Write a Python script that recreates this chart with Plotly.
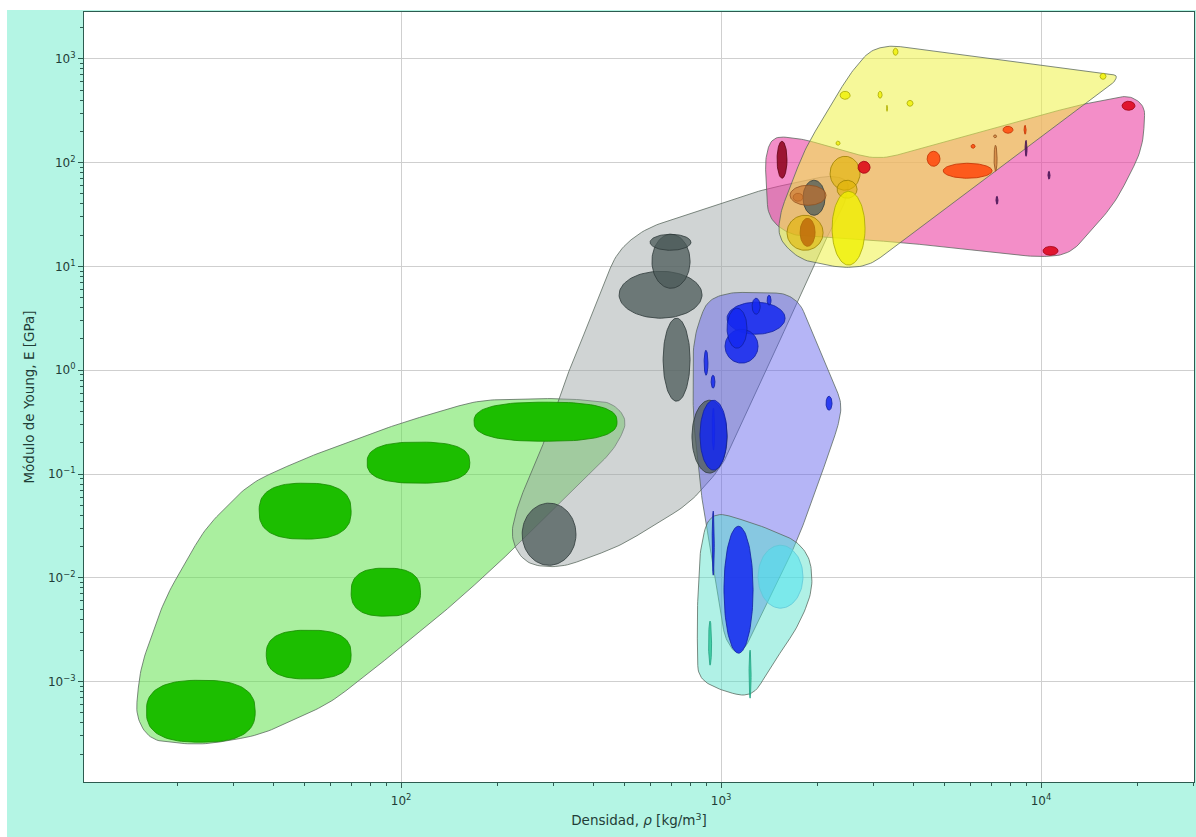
import numpy as np
import plotly.graph_objects as go

# ---------------------------------------------------------------
# Material property ranges: density [kg/m3] and Young's modulus [GPa]
# ---------------------------------------------------------------
espumas_rho_lo = [16.0, 37.9, 69.8, 36.0, 78.3, 169]
espumas_rho_hi = [35.0, 69.8, 115, 69.8, 164, 473]
espumas_E_lo = [2.61e-4, 1.06e-3, 4.27e-3, 0.0236, 0.0816, 0.207]
espumas_E_hi = [1.03e-3, 3.13e-3, 0.0124, 0.0816, 0.203, 0.492]

naturales_rho_lo = [239, 480, 608, 600, 659, 811, 1803]
naturales_rho_hi = [352, 872, 800, 805, 800, 1044, 2113]
naturales_E_lo = [0.0132, 3.17, 6.16, 14.3, 0.503, 0.102, 31.1]
naturales_E_hi = [0.0524, 8.98, 20.4, 20.4, 3.17, 0.514, 67.6]

polimeros_rho_lo = [1044, 1029, 1044, 1250, 1393, 885, 931, 938, 2128, 859, 1021, 938]
polimeros_rho_hi = [1585, 1305, 1205, 1325, 1433, 910, 957, 955, 2222, 1044, 1259, 952]
polimeros_E_lo = [2.22, 1.17, 1.63, 3.46, 4.23, 0.895, 0.671, 0.170, 0.412, 0.109, 0.00188, 0.0106]
polimeros_E_hi = [4.52, 2.48, 3.96, 4.94, 5.28, 1.56, 0.895, 0.431, 0.562, 0.514, 0.0314, 0.0439]

elastomeros_rho_lo = [1305]
elastomeros_rho_hi = [1803]
elastomeros_E_lo = [0.0051]
elastomeros_E_hi = [0.0206]

gomas_rho_lo = [914, 1223]
gomas_rho_hi = [934, 1241]
gomas_E_lo = [1.44e-3, 6.93e-4]
gomas_E_hi = [3.83e-3, 2.01e-3]

granate_rho_lo = [1496, 1766]
granate_rho_hi = [1607, 1967]
granate_E_lo = [70.7, 15.6]
granate_E_hi = [160.6, 29.1]

dorado_rho_lo = [2191, 2304, 1607]
dorado_rho_hi = [2718, 2661, 2084]
dorado_E_lo = [54.2, 45.4, 14.3]
dorado_E_hi = [115, 67.6, 31.1]

amarillo_rho_lo = [2223, 3447, 2355, 3095, 3289, 3811, 15290, 2285]
amarillo_rho_hi = [2818, 3573, 2531, 3186, 3313, 3981, 15960, 2355]
amarillo_E_lo = [10.3, 1081, 407, 417, 312, 349, 634, 147]
amarillo_E_hi = [52.9, 1262, 487, 487, 357, 398, 725, 161]

rojo_rho_lo = [2679, 17910, 10140]
rojo_rho_hi = [2922, 19660, 11300]
rojo_E_lo = [78.9, 319, 12.8]
rojo_E_hi = [103, 390, 15.6]

naranja_rho_lo = [4943, 4405, 7605, 8851, 6040]
naranja_rho_hi = [7031, 4833, 8173, 8981, 6223]
naranja_E_lo = [70.7, 92.2, 191.7, 187.5, 137.5]
naranja_E_hi = [98.5, 128.6, 223.9, 229, 150]

ocre_rho_lo = [7131, 1679, 1643, 7105]
ocre_rho_hi = [7287, 1803, 2128, 7261]
ocre_E_lo = [82.5, 42.4, 38.8, 173.4]
ocre_E_hi = [147, 50.7, 60.5, 185.4]

violeta_rho_lo = [8913, 10510, 7228]
violeta_rho_hi = [9042, 10670, 7337]
violeta_E_lo = [115, 69.2, 39.7]
violeta_E_hi = [164, 82.5, 47.4]

# ---------------------------------------------------------------
# Family envelopes (outline points: density, modulus)
# ---------------------------------------------------------------
env_espumas_rho = [174, 314, 456, 512, 467, 337, 235, 153, 99.3, 60, 36.2, 23.6, 16.4, 14.8,
                   15.3, 18.3, 24.4, 33.7, 50.1, 99.3]
env_espumas_E = [0.514, 0.537, 0.492, 0.330, 0.177, 0.0654, 0.0216, 0.00637, 0.0021, 6.2e-4,
                 3.05e-4, 2.44e-4, 2.73e-4, 4.65e-4, 1.35e-3, 6.37e-3, 0.030, 0.0816, 0.142, 0.309]

env_naturales_rho = [579, 745, 1325, 2191, 2531, 2441, 2208, 1871, 1563, 1305, 1014, 800, 483,
                     314, 244, 219, 232, 272, 321, 355, 473]
env_naturales_E = [23.3, 29.8, 54.2, 75.5, 67.6, 40.6, 23.3, 7.69, 2.27, 0.671, 0.1216, 0.0524,
                   0.0202, 0.0124, 0.01355, 0.0241, 0.0524, 0.1587, 0.717, 1.524, 14.0]

env_polimeros_rho = [904, 1066, 1585, 1766, 2388, 2330, 2000, 1728, 1189, 1106, 1029, 878, 818, 818]
env_polimeros_E = [4.72, 5.64, 5.52, 4.42, 0.481, 0.30, 0.0765, 0.0225, 0.0021, 0.00188,
                   0.00262, 0.0469, 0.345, 2.03]

env_elastomeros_rho = [924, 1325, 1728, 1897, 1939, 1766, 1422, 1250, 993, 847, 841, 859]
env_elastomeros_E = [0.0448, 0.0321, 0.0225, 0.0155, 0.00795, 0.00366, 0.00135, 6.93e-4,
                     8.28e-4, 1.08e-3, 0.00409, 0.0193]

env_metales_rho = [1442, 1766, 3095, 12960, 18970, 21130, 20820, 17030, 12320, 9930, 3622,
                   1643, 1403, 1372]
env_metales_E = [179.4, 171.6, 105.3, 356.6, 445.4, 348.9, 137.5, 40.6, 13.1, 12.25, 17.1,
                 19.95, 29.1, 110.1]

env_ceramicos_rho = [3373, 17280, 17030, 2922, 2441, 1766, 1507, 1528, 1830, 2531, 2922]
env_ceramicos_E = [1349, 694, 607, 10.26, 9.6, 11.47, 18.7, 32.5, 137.5, 725, 1208]

# axis ticks
x_major = [1e2, 1e3, 1e4]
x_major_text = ["10<sup>2</sup>", "10<sup>3</sup>", "10<sup>4</sup>"]
y_major = [1e-3, 1e-2, 1e-1, 1e0, 1e1, 1e2, 1e3]
y_major_text = ["10<sup>\u22123</sup>", "10<sup>\u22122</sup>", "10<sup>\u22121</sup>",
                "10<sup>0</sup>", "10<sup>1</sup>", "10<sup>2</sup>", "10<sup>3</sup>"]

# ---------------------------------------------------------------
X_RANGE = [1.009, 4.478]
Y_RANGE = [-3.967, 3.451]
PLOT_W, PLOT_H = 1110, 770
ASPECT = (PLOT_W / (X_RANGE[1] - X_RANGE[0])) / (PLOT_H / (Y_RANGE[1] - Y_RANGE[0]))
CORNER = 20 * (Y_RANGE[1] - Y_RANGE[0]) / PLOT_H   # fillet radius for envelope corners


def bubble(rlo, rhi, elo, ehi, power=2.0, n=90):
    """Ellipse (superellipse) in log-log space spanning the given ranges."""
    cx = 0.5 * (np.log10(rlo) + np.log10(rhi))
    cy = 0.5 * (np.log10(elo) + np.log10(ehi))
    ax = 0.5 * (np.log10(rhi) - np.log10(rlo))
    ay = 0.5 * (np.log10(ehi) - np.log10(elo))
    t = np.linspace(0, 2 * np.pi, n)
    c, s = np.cos(t), np.sin(t)
    ex = 2.0 / power
    lx = cx + ax * np.sign(c) * np.abs(c) ** ex
    ly = cy + ay * np.sign(s) * np.abs(s) ** ex
    return 10 ** lx, 10 ** ly


def rounded_outline(rho, E, radius=CORNER, n=12):
    """Closed polygon through the outline points with filleted corners (log space)."""
    P = np.stack([np.log10(rho) * ASPECT, np.log10(E)], axis=1)
    N = len(P)
    t = np.linspace(0, 1, n)[:, None]
    pts = []
    for i in range(N):
        p0, p1, p2 = P[i - 1], P[i], P[(i + 1) % N]
        d1, d2 = np.linalg.norm(p0 - p1), np.linalg.norm(p2 - p1)
        r = min(radius, 0.5 * d1, 0.5 * d2)
        a = p1 + (p0 - p1) / d1 * r
        b = p1 + (p2 - p1) / d2 * r
        pts.append((1 - t) ** 2 * a + 2 * (1 - t) * t * p1 + t ** 2 * b)
    out = np.vstack(pts + [pts[0][:1]])
    return 10 ** (out[:, 0] / ASPECT), 10 ** out[:, 1]


fig = go.Figure()

# envelopes (drawn first, translucent)
envelopes = [
    (env_espumas_rho, env_espumas_E, "rgba(100,225,80,0.55)"),
    (env_naturales_rho, env_naturales_E, "rgba(150,160,160,0.45)"),
    (env_polimeros_rho, env_polimeros_E, "rgba(90,90,235,0.45)"),
    (env_elastomeros_rho, env_elastomeros_E, "rgba(80,225,200,0.45)"),
    (env_metales_rho, env_metales_E, "rgba(235,60,160,0.58)"),
    (env_ceramicos_rho, env_ceramicos_E, "rgba(238,242,70,0.55)"),
]
for rho, E, fill in envelopes:
    xs, ys = rounded_outline(rho, E)
    fig.add_trace(go.Scatter(x=xs, y=ys, mode="lines", fill="toself", fillcolor=fill,
                             line=dict(color="rgba(85,100,90,0.75)", width=1),
                             hoverinfo="skip", showlegend=False))

# material bubbles
groups = [
    (espumas_rho_lo, espumas_rho_hi, espumas_E_lo, espumas_E_hi, "rgba(28,190,0,1)", "#188a00", 2.6),
    (naturales_rho_lo, naturales_rho_hi, naturales_E_lo, naturales_E_hi, "rgba(75,90,88,0.75)", "#2f3a3a", 2.0),
    (polimeros_rho_lo, polimeros_rho_hi, polimeros_E_lo, polimeros_E_hi, "rgba(20,40,240,0.85)", "#1020a0", 2.0),
    (elastomeros_rho_lo, elastomeros_rho_hi, elastomeros_E_lo, elastomeros_E_hi, "rgba(70,225,240,0.5)", "#60c8d8", 2.0),
    (gomas_rho_lo, gomas_rho_hi, gomas_E_lo, gomas_E_hi, "rgba(40,200,150,0.8)", "#20a080", 2.0),
    (granate_rho_lo, granate_rho_hi, granate_E_lo, granate_E_hi, "rgba(140,0,25,0.85)", "#600010", 2.0),
    (dorado_rho_lo, dorado_rho_hi, dorado_E_lo, dorado_E_hi, "rgba(225,180,0,0.6)", "#9a8000", 2.0),
    (amarillo_rho_lo, amarillo_rho_hi, amarillo_E_lo, amarillo_E_hi, "rgba(240,240,0,0.8)", "#a8a800", 2.0),
    (rojo_rho_lo, rojo_rho_hi, rojo_E_lo, rojo_E_hi, "rgba(220,0,20,0.85)", "#a00010", 2.0),
    (naranja_rho_lo, naranja_rho_hi, naranja_E_lo, naranja_E_hi, "rgba(255,70,10,0.85)", "#c03000", 2.0),
    (ocre_rho_lo, ocre_rho_hi, ocre_E_lo, ocre_E_hi, "rgba(200,110,40,0.6)", "#905020", 2.0),
    (violeta_rho_lo, violeta_rho_hi, violeta_E_lo, violeta_E_hi, "rgba(80,20,90,0.85)", "#401050", 2.0),
]
for rlo_l, rhi_l, elo_l, ehi_l, fill, edge, pw in groups:
    for rlo, rhi, elo, ehi in zip(rlo_l, rhi_l, elo_l, ehi_l):
        xs, ys = bubble(rlo, rhi, elo, ehi, power=pw)
        fig.add_trace(go.Scatter(x=xs, y=ys, mode="lines", fill="toself", fillcolor=fill,
                                 line=dict(color=edge, width=0.8),
                                 hoverinfo="skip", showlegend=False))

# minor tick positions
x_minor = [m * 10 ** k for k in range(1, 5) for m in range(2, 10)]
y_minor = [m * 10 ** k for k in range(-4, 4) for m in range(2, 10)]

AXIS_COLOR = "#2d5b50"
TEXT_COLOR = "#1f3d37"
FONT = "DejaVu Sans, Liberation Sans, sans-serif"

fig.update_xaxes(type="log", range=X_RANGE, tickvals=x_major, ticktext=x_major_text,
                 ticks="outside", ticklen=5, tickwidth=1, tickcolor=AXIS_COLOR,
                 ticklabelstandoff=3,
                 showline=True, linecolor=AXIS_COLOR, linewidth=1, mirror=True,
                 showgrid=True, gridcolor="#cfcfcf", gridwidth=1, zeroline=False,
                 tickfont=dict(family=FONT, size=12, color=TEXT_COLOR),
                 minor=dict(tickvals=x_minor, ticks="outside", ticklen=3, tickcolor=AXIS_COLOR,
                            showgrid=False),
                 title=dict(text="Densidad, <i>\u03c1</i> [kg/m<sup>3</sup>]", standoff=8,
                            font=dict(family=FONT, size=13.5, color=TEXT_COLOR)))
fig.update_yaxes(type="log", range=Y_RANGE, tickvals=y_major, ticktext=y_major_text,
                 ticks="outside", ticklen=5, tickwidth=1, tickcolor=AXIS_COLOR,
                 showline=True, linecolor=AXIS_COLOR, linewidth=1, mirror=True,
                 showgrid=True, gridcolor="#cfcfcf", gridwidth=1, zeroline=False,
                 tickfont=dict(family=FONT, size=12, color=TEXT_COLOR),
                 minor=dict(tickvals=y_minor, ticks="outside", ticklen=3, tickcolor=AXIS_COLOR,
                            showgrid=False),
                 title=dict(text="M\u00f3dulo de Young, E [GPa]", standoff=10,
                            font=dict(family=FONT, size=13.5, color=TEXT_COLOR)))

# thin white border strips around the figure background
L, R, T, B = 84, 2, 12, 55
W_FIG, H_FIG = 1196, 837
fig.add_shape(type="rect", xref="paper", yref="paper", layer="below",
              x0=-L / PLOT_W - 0.01, x1=(7 - L) / PLOT_W, y0=-0.2, y1=1.2,
              fillcolor="white", line=dict(width=0))
fig.add_shape(type="rect", xref="paper", yref="paper", layer="below",
              x0=-0.2, x1=1.2, y0=(H_FIG - B - 10) / PLOT_H, y1=1.2,
              fillcolor="white", line=dict(width=0))

fig.update_layout(width=W_FIG, height=H_FIG, margin=dict(l=L, r=R, t=T, b=B),
                  paper_bgcolor="#b4f5e4", plot_bgcolor="white",
                  font=dict(family=FONT, color=TEXT_COLOR), showlegend=False)

fig.write_html("out.html")
